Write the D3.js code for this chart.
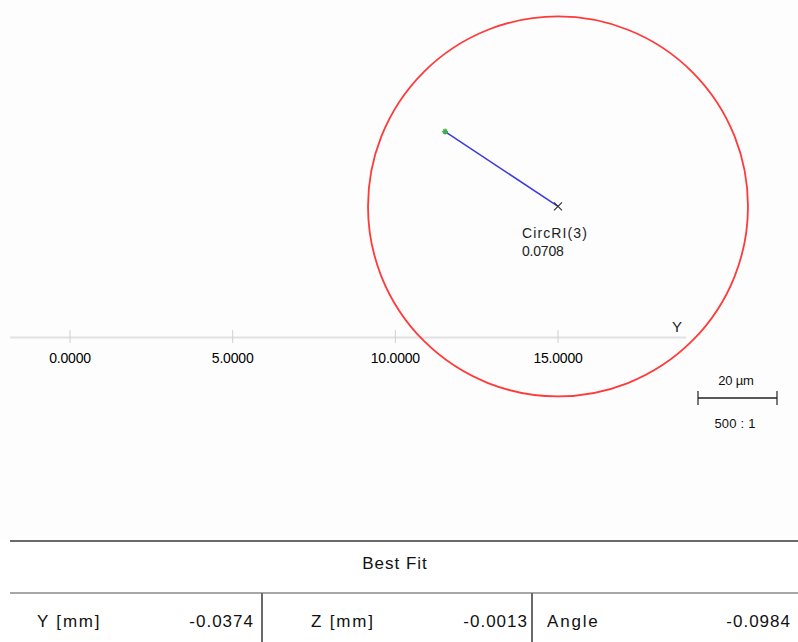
<!DOCTYPE html>
<html><head><meta charset="utf-8">
<script src="https://cdn.jsdelivr.net/npm/d3@7"></script>
<style>html,body{margin:0;padding:0;background:#fff;overflow:hidden}</style>
</head><body>
<svg id="c" width="798" height="642"></svg>
<script>
// Data
const axisTicks = [0, 5, 10, 15];
const axisTickLabels = ["0.0000", "5.0000", "10.0000", "15.0000"];
const circleCenter = [15.0, 4.03];     // axis units (Y, Z)
const circleRadius = 5.84;             // axis units
const pointStart = [11.53, 6.33];      // green point
const featureLabel = ["CircRI(3)", "0.0708"];
const scaleBarText = ["20 µm", "500 : 1"];
const tableTitle = "Best Fit";
const tableLabels = ["Y [mm]", "Z [mm]", "Angle"];
const tableValues = ["-0.0374", "-0.0013", "-0.0984"];

const svg = d3.select("#c");
const font = "'Liberation Sans', Arial, sans-serif";

svg.append("rect").attr("x",0).attr("y",0).attr("width",798).attr("height",540).attr("fill","#fdfdfd");

const x = d3.scaleLinear().domain([0, 15]).range([70, 558]);
const pxPerUnit = x(1) - x(0);
const y = d3.scaleLinear().domain([0, 1]).range([337.5, 337.5 - pxPerUnit]);

// axis line
svg.append("line").attr("x1",10).attr("x2",686).attr("y1",y(0)).attr("y2",y(0))
  .attr("stroke","#e2e2e2").attr("stroke-width",2);
svg.selectAll(".tk").data(axisTicks).enter().append("line")
  .attr("x1",d=>x(d)).attr("x2",d=>x(d)).attr("y1",y(0)-7.5).attr("y2",y(0)+5.5)
  .attr("stroke","#d0d0d0").attr("stroke-width",1);
svg.selectAll(".tl").data(axisTicks).enter().append("text")
  .attr("x",d=>x(d)).attr("y",363).attr("text-anchor","middle")
  .attr("font-family",font).attr("font-size",14).attr("letter-spacing","-0.2").attr("fill","#000")
  .text((d,i)=>axisTickLabels[i]);
svg.append("text").attr("x",677).attr("y",332).attr("text-anchor","middle")
  .attr("font-family",font).attr("font-size",15).attr("fill","#222").text("Y");

// circle
svg.append("circle").attr("cx",x(circleCenter[0])).attr("cy",y(circleCenter[1]))
  .attr("r",circleRadius*pxPerUnit).attr("fill","none").attr("stroke","#ff3a3a").attr("stroke-width",1.8);

// line
svg.append("line").attr("x1",x(pointStart[0])).attr("y1",y(pointStart[1]))
  .attr("x2",x(circleCenter[0])).attr("y2",y(circleCenter[1]))
  .attr("stroke","#3a3adf").attr("stroke-width",1.5);
const px0 = x(pointStart[0]), py0 = y(pointStart[1]);
svg.append("path").attr("d",`M${px0-3},${py0}L${px0+3},${py0}M${px0},${py0-3}L${px0},${py0+3}M${px0-2},${py0-2}L${px0+2},${py0+2}M${px0-2},${py0+2}L${px0+2},${py0-2}`)
  .attr("stroke","#3cb043").attr("stroke-width",1.3);
// x marker
const cx0 = x(circleCenter[0]), cy0 = y(circleCenter[1]);
svg.append("path").attr("d",`M${cx0-4},${cy0-4}L${cx0+4},${cy0+4}M${cx0-4},${cy0+4}L${cx0+4},${cy0-4}`)
  .attr("stroke","#333").attr("stroke-width",1.2);
svg.selectAll(".fl").data(featureLabel).enter().append("text")
  .attr("x",cx0-36).attr("y",(d,i)=>238+i*18)
  .attr("font-family",font).attr("font-size",14).attr("letter-spacing",(d,i)=>i===0?"1.1":"-0.2").attr("fill","#222").text(d=>d);

// scale bar
svg.append("line").attr("x1",698).attr("x2",777).attr("y1",398).attr("y2",398).attr("stroke","#222").attr("stroke-width",1.5);
svg.append("line").attr("x1",698).attr("x2",698).attr("y1",391).attr("y2",405).attr("stroke","#222").attr("stroke-width",1.2);
svg.append("line").attr("x1",777).attr("x2",777).attr("y1",391).attr("y2",405).attr("stroke","#222").attr("stroke-width",1.2);
svg.append("text").attr("x",736).attr("y",385).attr("text-anchor","middle").attr("font-family",font).attr("font-size",13).attr("letter-spacing","-0.2").attr("fill","#111").text(scaleBarText[0]);
svg.append("text").attr("x",735).attr("y",428).attr("text-anchor","middle").attr("font-family",font).attr("font-size",13).attr("letter-spacing","0.2").attr("fill","#111").text(scaleBarText[1]);

// table
svg.append("rect").attr("x",0).attr("y",540).attr("width",798).attr("height",102).attr("fill","#fff");
svg.append("line").attr("x1",10).attr("x2",798).attr("y1",541).attr("y2",541).attr("stroke","#6a6a6a").attr("stroke-width",2);
svg.append("line").attr("x1",10).attr("x2",798).attr("y1",593).attr("y2",593).attr("stroke","#8a8a8a").attr("stroke-width",1.5);
svg.append("text").attr("x",395).attr("y",569).attr("text-anchor","middle").attr("font-family",font).attr("font-size",17).attr("letter-spacing","1").attr("fill","#111").text(tableTitle);
const colL = [37, 311, 547], colR = [254, 528, 791], seps = [262, 532];
svg.selectAll(".sep").data(seps).enter().append("line").attr("x1",d=>d).attr("x2",d=>d).attr("y1",593).attr("y2",642)
  .attr("stroke","#6a6a6a").attr("stroke-width",2);
svg.selectAll(".lab").data(tableLabels).enter().append("text").attr("x",(d,i)=>colL[i]).attr("y",627)
  .attr("font-family",font).attr("font-size",17).attr("letter-spacing","1.8").attr("fill","#111").text(d=>d);
svg.selectAll(".val").data(tableValues).enter().append("text").attr("x",(d,i)=>colR[i]).attr("y",627).attr("text-anchor","end")
  .attr("font-family",font).attr("font-size",17).attr("letter-spacing","1").attr("fill","#111").text(d=>d);
</script>
</body></html>
